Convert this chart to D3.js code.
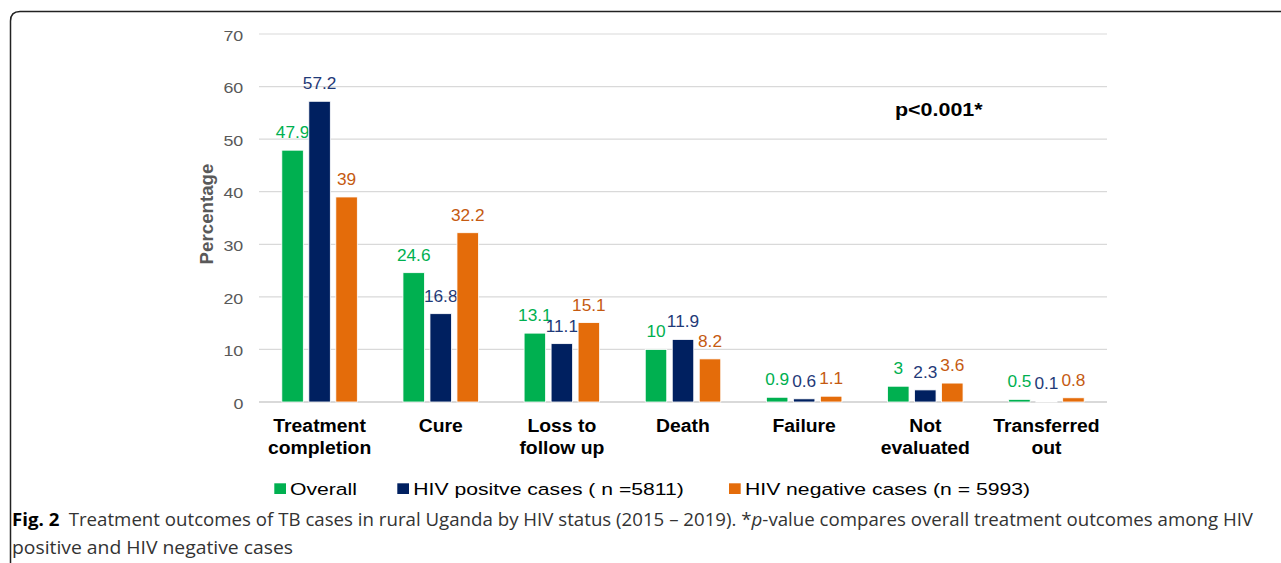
<!DOCTYPE html>
<html><head><meta charset="utf-8">
<script src="https://cdn.jsdelivr.net/npm/d3@7/dist/d3.min.js"></script>
<style>body{margin:0;background:#fff;}svg{display:block;}</style>
</head><body>
<svg id="c" width="1281" height="563"></svg>
<script>
const categories = [["Treatment","completion"],["Cure"],["Loss to","follow up"],["Death"],["Failure"],["Not","evaluated"],["Transferred","out"]];
const seriesNames = ["Overall","HIV positve cases ( n =5811)","HIV negative cases (n = 5993)"];
const overall = [47.9,24.6,13.1,10,0.9,3,0.5];
const hivPos = [57.2,16.8,11.1,11.9,0.6,2.3,0.1];
const hivNeg = [39,32.2,15.1,8.2,1.1,3.6,0.8];
const yTicks = [0,10,20,30,40,50,60,70];
const barColors = ["#00B050","#002060","#E46C0A"];
const labelColors = ["#00B050","#1F3A78","#C55A11"];
const series = [overall,hivPos,hivNeg];
const FONT = "Liberation Sans, Arial, sans-serif";

const svg = d3.select("#c");
svg.append("path").attr("d","M10.5,563 L10.5,21 Q10.5,11.5 20,11.5 L1281,11.5")
  .attr("fill","none").attr("stroke","#222").attr("stroke-width",1.5);

function stext(parent,x,y,sx,txt){
  return parent.append("text").attr("transform",`translate(${x},${y}) scale(${sx},1)`)
    .attr("font-family",FONT).text(txt);
}

const x0 = d3.scaleBand().domain(d3.range(categories.length)).range([259,1107]).paddingInner(0).paddingOuter(0);
const y = d3.scaleLinear().domain([0,70]).range([402,34]);
const step = 27, bw = 21.5;

const g = svg.append("g");
g.selectAll("line.grid").data(yTicks).join("line")
  .attr("x1",259).attr("x2",1107).attr("y1",d=>y(d)).attr("y2",d=>y(d))
  .attr("stroke","#d9d9d9").attr("stroke-width",d=>d===0?2:1.2);
yTicks.forEach(d=>{
  stext(g,243.3,y(d)+6.7,1.16,d).attr("text-anchor","end").attr("font-size",15.4).attr("fill","#595959");
});

series.forEach((vals,si)=>{
  const cx = i => x0(i)+x0.bandwidth()/2 + (si-1)*step;
  g.selectAll("rect.s"+si).data(vals).join("rect")
    .attr("x",(d,i)=>cx(i)-bw/2).attr("width",bw)
    .attr("y",d=>y(d)).attr("height",d=>y(0)-y(d))
    .attr("fill",barColors[si]).attr("stroke","#fff").attr("stroke-width",0.8);
  vals.forEach((d,i)=>{
    stext(g,cx(i),y(d)-12,1.08,d).attr("text-anchor","middle").attr("font-size",16).attr("fill",labelColors[si]);
  });
});

categories.forEach((lines,i)=>{
  lines.forEach((l,j)=>{
    stext(g,x0(i)+x0.bandwidth()/2,431.5+j*22,1.1,l).attr("text-anchor","middle")
      .attr("font-size",17.6).attr("font-weight","bold").attr("fill","#000");
  });
});

svg.append("text").attr("transform","translate(213,214) rotate(-90)").attr("text-anchor","middle")
  .attr("font-family",FONT).attr("font-size",18.7).attr("font-weight","bold")
  .attr("fill","#595959").text("Percentage");

stext(svg,895,116,1.16,"p<0.001*").attr("font-size",18.5).attr("font-weight","bold").attr("fill","#000");

const legSq = [274.3,397.3,729];
const legTx = [290,413.3,745];
seriesNames.forEach((n,i)=>{
  svg.append("rect").attr("x",legSq[i]).attr("y",483.3).attr("width",11.7).attr("height",10.7).attr("fill",barColors[i]);
  stext(svg,legTx[i],495,1.23,n).attr("font-size",17.2).attr("fill","#000");
});

const cap1 = svg.append("text").attr("x",12).attr("y",526).attr("font-family","Open Sans, Noto Sans, sans-serif")
  .attr("font-size",18).attr("fill","#333").attr("textLength",1241).attr("lengthAdjust","spacingAndGlyphs");
cap1.append("tspan").attr("font-weight","bold").attr("fill","#000").text("Fig. 2");
cap1.append("tspan").text("\u2002Treatment outcomes of TB cases in rural Uganda by HIV status (2015 \u2013 2019). *");
cap1.append("tspan").attr("font-style","italic").text("p");
cap1.append("tspan").text("-value compares overall treatment outcomes among HIV");
svg.append("text").attr("x",12).attr("y",553.5).attr("font-family","Open Sans, Noto Sans, sans-serif")
  .attr("font-size",18).attr("fill","#333").attr("textLength",281).attr("lengthAdjust","spacingAndGlyphs")
  .text("positive and HIV negative cases");
</script>
</body></html>
